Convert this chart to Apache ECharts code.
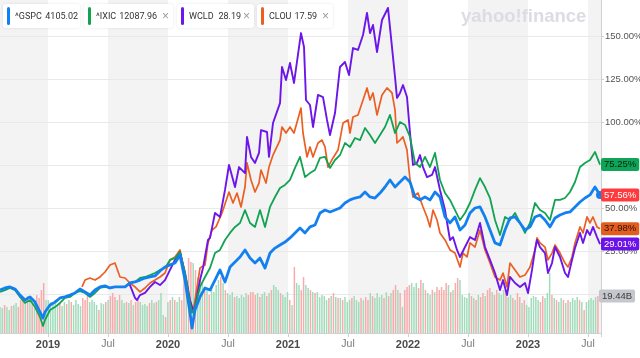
<!DOCTYPE html>
<html><head><meta charset="utf-8">
<script src="https://cdn.jsdelivr.net/npm/echarts@6/dist/echarts.min.js"></script>
<style>html,body{margin:0;padding:0;background:#fff}#c{width:640px;height:358px}</style>
</head><body><div id="c"></div>
<script>
// Time unit for all series: months since 2018-01-01 (12 = Jan 2019, 18 = Jul 2019 ...)
const idxTimes = [7.2,7.7,8.2,8.7,9.2,9.7,10.2,10.7,11.2,11.5,11.7,12.2,12.7,13.2,13.7,14.2,14.7,15.2,15.7,16.2,16.7,17.2,17.7,18.2,18.7,19.2,19.7,20.2,20.7,21.2,21.7,22.2,22.7,23.2,23.7,24.2,24.7,25.2,25.7,26.2,26.4,26.7,27.2,27.7,28.2,28.7,29.2,29.7,30.2,30.7,31.2,31.7,32.2,32.7,33.2,33.7,34.2,34.7,35.2,35.7,36.2,36.7,37.2,37.7,38.2,38.7,39.2,39.7,40.2,40.7,41.2,41.7,42.2,42.7,43.2,43.7,44.2,44.7,45.2,45.7,46.2,46.7,47.2,47.7,48.2,48.7,49.2,49.7,50.2,50.7,51.2,51.7,52.2,52.7,53.2,53.7,54.2,54.7,55.2,55.7,56.2,56.7,57.2,57.7,58.2,58.7,59.2,59.7,60.2,60.7,61.2,61.7,62.2,62.7,63.2,63.7,64.2,64.7,65.2,65.7,66.2,66.7,67.2];
// % change, ^GSPC
const gspc = [2.3,3.5,4.1,2.9,-0.6,-3.5,-1.7,-4.7,-10.5,-14.0,-10.5,-6.4,-4.7,-2.3,-1.7,-0.6,0.6,2.9,1.2,-0.6,2.3,4.1,4.7,3.5,4.1,4.1,4.1,6.4,7.0,8.1,9.3,9.9,10.5,13.4,15.7,16.9,18.0,22.7,8.1,-11.0,-19.8,-9.3,-1.7,3.5,2.3,8.1,14.0,7.0,15.7,18.6,21.5,25.6,20.9,18.0,20.9,15.1,23.8,26.7,28.5,30.2,32.6,35.5,38.4,35.5,39.0,40.1,47.1,48.8,47.7,48.8,50.0,52.9,54.7,55.8,56.4,59.3,56.4,55.8,58.7,62.2,66.3,62.2,65.1,68.0,65.1,56.4,54.7,56.4,54.7,59.3,56.4,44.8,41.3,44.8,37.2,40.1,47.1,50.0,50.6,44.8,37.2,29.7,28.5,37.2,44.2,44.8,41.3,37.2,39.0,44.8,45.9,43.0,39.0,44.2,45.9,47.1,47.7,50.6,53.5,55.8,57.6,62.2,57.56];
// % change, ^IXIC
const ixic = [1.2,2.3,3.5,2.3,-1.7,-5.2,-3.5,-7.6,-13.4,-18.6,-15.1,-9.3,-7.6,-5.2,-2.3,-1.7,0.6,1.7,0.6,-1.7,0.6,3.5,4.1,3.5,4.1,4.1,4.1,6.4,7.0,9.3,9.9,11.0,12.2,14.0,15.1,19.8,20.9,24.4,12.2,-5.2,-11.0,-7.6,4.1,9.9,15.1,23.8,25.6,31.4,35.5,39.0,41.3,48.8,41.3,39.0,48.8,39.0,50.6,56.4,61.6,63.4,66.3,73.3,79.7,68.0,70.3,72.1,79.1,79.7,73.3,77.9,80.8,87.8,85.5,90.7,89.5,96.5,92.4,87.8,92.4,97.1,104.1,93.6,100.0,98.3,91.3,76.2,73.8,79.7,73.8,82.0,66.3,58.7,54.7,48.8,43.0,47.1,52.9,60.5,67.4,62.2,55.8,43.0,34.3,44.8,43.0,47.1,41.3,35.5,41.3,52.9,48.8,47.1,43.0,54.7,54.7,55.8,59.3,65.1,73.8,76.2,77.9,82.6,75.25];
// WCLD
const wcldTimes = [20.0,20.2,20.7,20.9,21.2,21.7,22.2,22.7,23.2,23.7,24.2,24.7,25.2,25.7,26.2,26.5,26.7,27.2,27.5,27.7,28.0,28.2,28.7,29.2,29.7,30.1,30.7,31.1,31.7,31.9,32.3,32.7,33.1,33.3,33.9,34.1,34.5,35.2,35.4,35.8,36.2,36.6,37.3,37.6,37.8,38.2,38.5,39.0,39.5,39.9,40.2,40.7,41.2,41.7,42.1,42.5,43.0,43.5,43.9,44.2,44.5,44.9,45.4,46.0,46.2,46.7,46.9,47.2,47.5,47.9,48.2,48.5,48.9,49.2,49.5,49.9,50.4,50.7,51.2,51.7,52.2,52.5,52.9,53.2,53.7,54.2,54.7,55.2,55.7,56.2,56.7,57.2,57.5,57.9,58.2,58.7,59.2,59.7,60.0,60.4,60.7,60.9,61.2,61.7,62.0,62.4,62.7,63.2,63.7,64.0,64.4,64.7,65.2,65.5,65.9,66.2,66.5,66.9,67.2];
const wcld = [6.4,5.2,-2.3,-3.5,-0.6,0.6,4.1,7.0,5.2,8.1,14.0,19.8,24.4,12.2,-3.5,-9.3,-7.6,8.1,15.1,15.7,31.4,32.6,47.1,44.8,60.5,75.0,62.2,73.8,70.3,91.3,79.7,76.2,82.0,95.3,94.2,79.7,99.4,111.0,132.0,124.4,134.3,122.7,151.7,143.6,112.8,109.9,97.1,115.7,114.5,101.2,92.4,105.2,132.0,134.9,127.3,143.0,141.9,150.6,163.4,151.7,156.4,140.7,159.3,166.3,166.9,126.2,114.0,116.9,121.5,114.5,93.6,75.0,76.2,80.8,73.8,68.0,69.2,73.8,60.5,48.8,31.4,33.1,25.6,21.5,27.3,33.1,31.4,41.3,27.3,19.8,12.2,2.3,8.1,-0.6,9.9,6.4,4.1,6.4,0.6,14.0,25.6,31.4,27.3,23.8,12.2,18.0,27.3,21.5,12.2,9.9,19.8,26.7,35.5,29.7,37.2,34.3,39.0,33.1,29.01];
// CLOU
const clouTimes = [15.4,15.7,16.2,16.7,17.2,17.7,18.2,18.7,19.2,19.7,20.2,20.7,21.2,21.7,22.2,22.7,23.2,23.7,24.2,24.7,25.2,25.7,26.2,26.5,26.7,27.2,27.7,28.0,28.4,28.8,29.4,30.1,30.5,30.9,31.3,31.7,31.9,32.3,32.7,33.1,33.3,33.8,34.1,34.5,35.2,35.4,35.8,36.2,36.6,37.3,37.5,37.9,38.2,38.5,39.0,39.4,39.7,40.0,40.5,41.0,41.5,42.0,42.2,42.5,43.0,43.5,43.9,44.2,44.5,44.9,45.4,45.9,46.4,46.7,46.9,47.2,47.5,47.9,48.2,48.5,49.0,49.5,49.9,50.2,50.5,50.9,51.2,51.7,52.2,52.7,53.2,53.5,53.9,54.2,54.7,55.2,55.7,56.2,56.7,57.2,57.5,57.9,58.2,58.7,59.2,59.7,60.2,60.7,60.9,61.2,61.7,62.0,62.4,62.7,63.2,63.7,64.0,64.4,64.7,65.2,65.5,65.9,66.2,66.5,66.9,67.2];
const clou = [4.1,8.1,9.3,8.1,9.9,12.8,16.9,18.0,9.9,9.3,6.4,4.1,1.2,3.5,6.4,8.1,9.9,12.2,19.8,21.5,25.6,9.9,-7.6,-10.5,-3.5,15.1,16.9,29.7,37.2,39.0,47.1,59.3,52.9,58.7,50.6,62.2,76.2,66.3,59.3,64.5,72.1,64.5,73.8,80.8,89.5,97.1,93.6,97.1,93.6,108.1,93.6,79.7,85.5,79.7,87.8,89.5,85.5,73.8,79.1,83.7,99.4,101.2,93.6,102.9,104.1,112.8,119.8,112.8,116.9,104.1,115.7,119.8,116.9,107.0,87.8,89.5,91.3,83.7,66.3,56.4,58.7,50.6,44.8,39.0,48.8,43.0,35.5,31.4,25.6,23.8,15.7,23.8,21.5,29.7,27.3,37.2,25.6,18.0,9.9,8.1,12.2,4.1,18.0,14.0,9.9,11.0,15.7,25.6,32.6,29.7,27.3,19.8,23.8,28.5,23.8,18.0,15.7,21.5,29.7,39.0,35.5,44.8,41.3,44.8,39.0,37.98];
// Weekly volume (billions), first week at month 7.2
const volStartMonth = 7.2;
const volumes = [13.7,13.1,14.7,13.7,12.1,14.2,14.7,15.8,13.7,17.3,18.4,15.8,19.4,17.3,15.2,16.3,20.0,18.4,22.6,26.3,17.3,17.3,16.3,15.8,17.3,14.7,15.8,14.2,16.3,15.2,17.3,16.3,14.7,17.3,15.2,14.2,18.4,17.3,19.4,16.3,17.3,16.3,14.7,12.1,15.8,15.2,16.3,17.3,19.4,21.0,18.9,17.3,20.0,17.3,15.8,16.3,15.8,17.3,14.7,16.3,18.4,16.3,14.7,15.2,14.2,15.8,17.3,15.8,16.3,17.3,21.0,9.5,8.4,16.3,17.3,18.9,17.3,16.3,18.9,17.3,30.5,28.9,39.4,37.3,36.8,33.1,29.4,27.9,26.3,24.2,22.6,20.0,23.6,21.5,25.2,27.9,29.4,26.3,22.6,21.0,20.0,21.5,18.9,19.4,18.4,20.0,18.9,21.0,20.0,21.5,21.5,20.0,21.0,18.9,20.5,21.5,19.4,21.0,22.6,25.2,24.2,22.6,21.0,20.0,18.9,21.5,17.3,14.7,34.7,26.3,25.2,22.6,29.4,25.2,23.6,22.6,21.5,21.0,21.5,18.9,20.0,19.4,17.3,18.4,19.4,21.0,18.9,18.4,18.4,17.3,18.9,16.3,17.3,18.4,19.4,17.3,16.3,18.4,17.3,18.9,17.3,21.0,19.4,18.4,21.0,18.9,20.0,18.4,21.5,19.4,21.0,22.6,25.2,22.6,21.0,13.7,22.6,24.2,25.2,26.3,24.2,26.3,23.6,27.9,26.3,22.6,21.0,20.0,22.6,21.5,24.2,22.6,24.2,22.6,26.3,25.2,21.5,22.6,26.3,28.9,27.9,20.0,18.9,18.4,21.0,19.4,18.4,17.3,20.0,18.9,21.0,19.4,22.6,23.6,21.5,20.0,22.6,21.0,20.0,22.6,21.5,18.9,20.0,18.4,17.3,21.0,18.9,15.8,17.3,14.7,13.7,18.4,19.4,18.9,17.3,16.3,19.4,18.4,21.0,31.5,20.0,18.4,17.3,16.3,18.4,17.3,15.8,17.3,16.3,18.4,17.3,18.9,17.3,16.3,12.1,16.3,17.3,18.4,17.3,18.9,19.44];
const volDirs = ["uuduuduud","ddududu","ddddu","uuuuuduudu","duuuudddu","uuuduudu","ddduduud","ududduuuud","uuduuudud","uduud","dudduduu","ududuuuudud","uuuduuuuudd","dduduudud","uuuduuudu","duudduudu","duuuuududud","uduuuduuudu","dduduuuududud","dududdduu","udduduududd","dddududdu","uuuudududdu","ddudduuud","uududduduu","uuuudduuud","uduududuuuududu","uuuud"].join('');
const legendNames = ['^GSPC', '^IXIC', 'WCLD', 'CLOU'];
const legendPrices = ['4105.02', '12087.96', '28.19', '17.59'];
const volumeLabel = '19.44B';

const FONT = 'Liberation Sans, Arial, sans-serif';
const LFONT = 'Roboto, Liberation Sans, sans-serif';
const C = { gspc: '#1380ef', ixic: '#12a352', wcld: '#6c16ea', clou: '#ec5f22' };
const zip = (t, v) => t.map((x, i) => [x, v[i]]);
const last = a => a[a.length - 1];
const pct = v => v.toFixed(2) + '%';

function badge(bg, fg) {
  return { show: true, distance: 1, backgroundColor: bg, color: fg, padding: [2, 3, 1, 3], borderRadius: 2,
           fontSize: 9.5, fontFamily: FONT };
}
function lineSeries(name, t, v, color, w, z, bg, fg) {
  return {
    name, type: 'line', xAxisIndex: 0, yAxisIndex: 0, data: zip(t, v), showSymbol: false, clip: false, z,
    lineStyle: { color, width: w, join: 'round' }, itemStyle: { color },
    endLabel: Object.assign(badge(bg, fg), { formatter: () => pct(last(v)) })
  };
}

const volT = volumes.map((_, i) => volStartMonth + i * 12 / 52.18);
const volData = volumes.map((v, i) => ({ value: [volT[i], v],
  itemStyle: { color: volDirs[i] === 'd' ? '#f8abab' : '#a0dcbc' } }));

// legend layout (box left, width, right end of price text, close-mark centre)
const legendBoxes = [{ x: 3, w: 77, vEnd: 78 }, { x: 84, w: 89, vEnd: 157, cx: 165.5 },
                     { x: 177, w: 77, vEnd: 241, cx: 246.5 }, { x: 257, w: 76, vEnd: 317, cx: 325.5 }];
const legendColors = [C.gspc, C.ixic, C.wcld, C.clou];
const graphics = [];
legendNames.forEach((n, i) => {
  const b = legendBoxes[i];
  graphics.push({ type: 'rect', left: b.x, top: 4, z: 10, shape: { width: b.w, height: 24, r: 3 },
    style: { fill: '#fff', shadowBlur: 3, shadowColor: 'rgba(0,0,0,0.10)' } });
  graphics.push({ type: 'rect', left: b.x + 4, top: 7, z: 11, shape: { width: 3, height: 18, r: 1.5 },
    style: { fill: legendColors[i] } });
  graphics.push({ type: 'text', x: b.x + 12, y: 17, z: 11,
    style: { text: n, fill: '#333', fontSize: 9, fontFamily: LFONT, align: 'left', verticalAlign: 'middle' } });
  graphics.push({ type: 'text', x: b.vEnd, y: 17, z: 11,
    style: { text: legendPrices[i], fill: '#333', fontSize: 9, fontFamily: LFONT, align: 'right', verticalAlign: 'middle' } });
  if (b.cx) graphics.push({ type: 'text', x: b.cx, y: 16.5, z: 11,
    style: { text: '×', fill: '#9a9a9a', fontSize: 12, fontFamily: FONT, align: 'center', verticalAlign: 'middle' } });
});
graphics.push({ type: 'text', left: 461, top: 7, z: 1,
  style: { text: 'yahoo!finance', fill: '#dcdce3', fontSize: 18.5, fontWeight: 'bold', fontFamily: FONT } });

const chart = echarts.init(document.getElementById('c'), null, { renderer: 'canvas' });
chart.setOption({
  animation: false,
  backgroundColor: '#fff',
  textStyle: { fontFamily: FONT },
  grid: [
    { left: -12, width: 613, top: -7, height: 301, containLabel: false, outerBoundsMode: 'none' },
    { left: -12, width: 613, top: 0, bottom: 25, containLabel: false, outerBoundsMode: 'none' }
  ],
  xAxis: [
    { gridIndex: 0, type: 'value', min: 6, max: 67.3, show: false },
    { gridIndex: 1, type: 'value', min: 6, max: 67.3, interval: 6,
      axisLine: { show: true, lineStyle: { color: '#d0d0d0' } },
      axisTick: { show: true, length: 4, lineStyle: { color: '#d0d0d0' } },
      splitLine: { show: false },
      splitArea: { show: true, areaStyle: { color: ['#f3f3f3', '#ffffff'] } },
      axisLabel: { margin: 6, showMinLabel: true, showMaxLabel: true,
        formatter: v => {
          const r = Math.round(v);
          if (Math.abs(v - r) > 1e-6) return '';
          if (r % 12 === 0) return '{y|' + (2018 + r / 12) + '}';
          if (r % 12 === 6) return '{m|Jul}';
          return '';
        },
        rich: { y: { fontWeight: 'bold', color: '#4a4a4a', fontSize: 11, fontFamily: FONT },
                m: { color: '#777', fontSize: 10.5, fontFamily: FONT } } } }
  ],
  yAxis: [
    { gridIndex: 0, type: 'value', position: 'right', min: 0, max: 175, interval: 25, z: 1,
      axisLine: { show: false },
      axisTick: { show: true, length: 3, lineStyle: { color: '#cfcfcf' } },
      axisLabel: { margin: 4, color: '#555', fontSize: 9.5, fontFamily: FONT, formatter: v => pct(v) },
      splitLine: { show: true, lineStyle: { color: '#e9e9e9', width: 1 } } },
    { gridIndex: 1, type: 'value', position: 'right', min: 0, max: 175, show: true,
      axisLine: { show: true, lineStyle: { color: '#d0d0d0' } },
      axisTick: { show: false }, axisLabel: { show: false }, splitLine: { show: false } }
  ],
  series: [
    { name: 'Volume', type: 'bar', xAxisIndex: 1, yAxisIndex: 1, data: volData, barWidth: 1.5, z: 2,
      markPoint: { symbol: 'rect', symbolSize: 0, silent: true,
        data: [{ coord: [last(volT), last(volumes)] }],
        label: Object.assign(badge('#c6c7cd', '#3c3c3c'), { position: 'right', formatter: volumeLabel }) } },
    lineSeries('CLOU', clouTimes, clou, C.clou, 1.7, 3, '#e35d1e', '#2a1208'),
    lineSeries('WCLD', wcldTimes, wcld, C.wcld, 1.9, 4, '#6a12e8', '#ffffff'),
    lineSeries('^IXIC', idxTimes, ixic, C.ixic, 1.8, 5, '#0fa558', '#06200f'),
    Object.assign(lineSeries('^GSPC', idxTimes, gspc, C.gspc, 2.8, 6, '#ff3a3d', '#ffffff'), {
      markPoint: { symbol: 'circle', symbolSize: 8, silent: true, itemStyle: { color: C.gspc },
        label: { show: false }, data: [{ coord: [last(idxTimes), last(gspc)] }] } })
  ],
  graphic: graphics
});
</script></body></html>
